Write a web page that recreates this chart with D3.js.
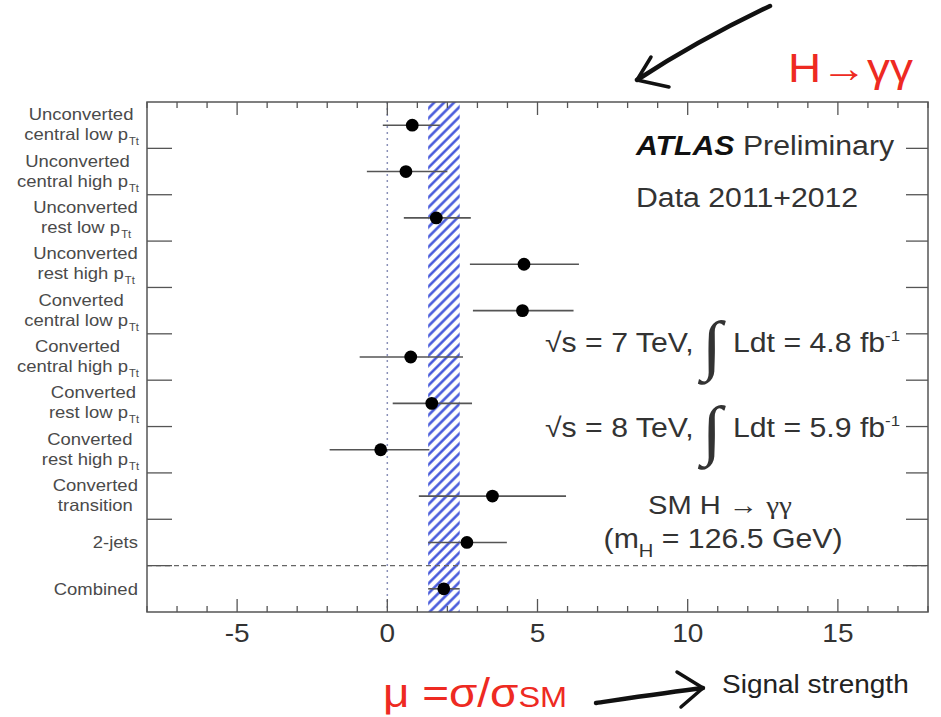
<!DOCTYPE html>
<html>
<head>
<meta charset="utf-8">
<script src="https://cdn.jsdelivr.net/npm/d3@7"></script>
<style>
  body { margin: 0; background: #fff; }
  svg { display: block; font-family: "Liberation Sans", Arial, sans-serif; }
</style>
</head>
<body>
<svg id="chart" width="941" height="717"></svg>
<script>
// category labels, each as lines; "p_Tt" marks p with subscript Tt
var categories = [
	["Unconverted", "central low p_Tt"],
	["Unconverted", "central high p_Tt"],
	["Unconverted", "rest low p_Tt"],
	["Unconverted", "rest high p_Tt"],
	["Converted", "central low p_Tt"],
	["Converted", "central high p_Tt"],
	["Converted", "rest low p_Tt"],
	["Converted", "rest high p_Tt"],
	["Converted", "transition"],
	["2-jets"],
	["Combined"]
];
var muValues = [0.83, 0.62, 1.63, 4.55, 4.5, 0.78, 1.48, -0.22, 3.5, 2.65, 1.88];
var muLow    = [-0.15, -0.68, 0.55, 2.75, 2.85, -0.92, 0.18, -1.92, 1.05, 1.36, 1.36];
var muHigh   = [1.75, 2.0, 2.78, 6.38, 6.2, 2.52, 2.82, 1.4, 5.95, 3.98, 2.41];
var combinedBand = [1.36, 2.41];
var xTicks = [-5, 0, 5, 10, 15];
var xDomain = [-8, 18];

(function () {
	var svg = d3.select('#chart');
	var pl = 147, pr = 928, pt = 102, pb = 612;
	var stretch = 1.12; // the original picture is a bit wider than tall

	var x = d3.scaleLinear().domain(xDomain).range([pl, pr]);
	var y = d3.scaleBand().domain(d3.range(categories.length)).range([pt, pb]);
	var yc = function (i) { return y(i) + y.bandwidth() / 2; };

	// hatch pattern for the combined band
	var defs = svg.append('defs');
	defs.append('pattern')
		.attr('id', 'hatch')
		.attr('patternUnits', 'userSpaceOnUse')
		.attr('width', 7).attr('height', 7)
		.attr('patternTransform', 'rotate(45)')
		.append('line')
		.attr('x1', 1.5).attr('y1', 0).attr('x2', 1.5).attr('y2', 7)
		.attr('stroke', '#3a4ed8').attr('stroke-width', 2.4);

	svg.append('rect')
		.attr('x', x(combinedBand[0])).attr('y', pt)
		.attr('width', x(combinedBand[1]) - x(combinedBand[0]))
		.attr('height', pb - pt)
		.attr('fill', 'url(#hatch)');

	// SM line at mu = 0
	svg.append('line')
		.attr('x1', x(0)).attr('x2', x(0))
		.attr('y1', pt).attr('y2', pb)
		.attr('stroke', '#8a90b8').attr('stroke-width', 1.5)
		.attr('stroke-dasharray', '2,4');

	// dashed separator above "Combined"
	svg.append('line')
		.attr('x1', pl).attr('x2', pr)
		.attr('y1', y(categories.length - 1)).attr('y2', y(categories.length - 1))
		.attr('stroke', '#666').attr('stroke-width', 1.2)
		.attr('stroke-dasharray', '5,4');

	// x axis, bottom and top, with minor ticks every unit
	var minor = d3.range(xDomain[0], xDomain[1] + 1).filter(function (v) { return v % 5 !== 0; });
	var axisG = svg.append('g').attr('stroke', '#555').attr('stroke-width', 1.3);
	[pb, pt].forEach(function (yy) {
		var dir = yy === pb ? -1 : 1;
		xTicks.forEach(function (v) {
			axisG.append('line').attr('x1', x(v)).attr('x2', x(v))
				.attr('y1', yy).attr('y2', yy + dir * 13);
		});
		minor.forEach(function (v) {
			axisG.append('line').attr('x1', x(v)).attr('x2', x(v))
				.attr('y1', yy).attr('y2', yy + dir * 6);
		});
	});

	// category boundary ticks, left and right
	d3.range(1, categories.length).forEach(function (i) {
		axisG.append('line').attr('x1', pl).attr('x2', pl + 25)
			.attr('y1', y(i)).attr('y2', y(i));
		axisG.append('line').attr('x1', pr - 22).attr('x2', pr)
			.attr('y1', y(i)).attr('y2', y(i));
	});

	// frame
	svg.append('rect')
		.attr('x', pl).attr('y', pt)
		.attr('width', pr - pl).attr('height', pb - pt)
		.attr('fill', 'none').attr('stroke', '#555').attr('stroke-width', 1.5);

	// tick labels
	svg.append('g').selectAll('text')
		.data(xTicks)
		.enter().append('text')
		.attr('transform', function (d) { return 'translate(' + x(d) + ',642) scale(' + stretch + ',1)'; })
		.attr('text-anchor', 'middle')
		.attr('font-size', 25)
		.attr('fill', '#333')
		.text(function (d) { return d; });

	// error bars and points
	var rows = svg.append('g').selectAll('g')
		.data(muValues)
		.enter().append('g');

	rows.append('line')
		.attr('x1', function (d, i) { return x(muLow[i]); })
		.attr('x2', function (d, i) { return x(muHigh[i]); })
		.attr('y1', function (d, i) { return yc(i); })
		.attr('y2', function (d, i) { return yc(i); })
		.attr('stroke', '#555').attr('stroke-width', 1.6);

	rows.append('circle')
		.attr('cx', function (d) { return x(d); })
		.attr('cy', function (d, i) { return yc(i); })
		.attr('r', 6.4)
		.attr('fill', '#000');

	// category labels: lines centred on each other, block right edge at 138
	var labelG = svg.append('g').attr('fill', '#4a4a4a').attr('font-size', 16.5);
	categories.forEach(function (lines, i) {
		var cy = yc(i);
		var g = labelG.append('g');
		var texts = lines.map(function (line, k) {
			var t = g.append('text')
				.attr('y', cy + 6 + (lines.length === 1 ? 0 : (k === 0 ? -11 : 9)));
			var parts = line.split('_');
			t.append('tspan').text(parts[0]);
			if (parts[1]) {
				t.append('tspan').attr('font-size', 10).attr('dy', 5).attr('dx', 1).text(parts[1]);
			}
			return t;
		});
		var widths = texts.map(function (t) { return t.node().getComputedTextLength(); });
		var maxW = d3.max(widths);
		texts.forEach(function (t, k) {
			t.attr('x', (maxW - widths[k]) / 2);
		});
		g.attr('transform', 'translate(' + (138 - maxW * stretch) + ',0) scale(' + stretch + ',1)');
	});

	// plot annotations
	function note(xx, yy, size, anchor) {
		return svg.append('text')
			.attr('transform', 'translate(' + xx + ',' + yy + ') scale(' + stretch + ',1)')
			.attr('text-anchor', anchor || 'start')
			.attr('font-size', size)
			.attr('fill', '#333');
	}

	var atlas = note(636, 155, 27);
	atlas.append('tspan').attr('font-weight', 'bold').attr('font-style', 'italic').attr('fill', '#111').text('ATLAS');
	atlas.append('tspan').text(' Preliminary');
	note(636, 207, 27).text('Data 2011+2012');

	[['7', '4.8', 352], ['8', '5.9', 437]].forEach(function (r) {
		note(545, r[2], 27).text('\u221As = ' + r[0] + ' TeV,');
		note(712, r[2] + 15, 66, 'middle').attr('font-family', 'DejaVu Sans').attr('font-weight', 200).text('\u222B');
		var t = note(733, r[2], 27);
		t.append('tspan').text('Ldt = ' + r[1] + ' fb');
		t.append('tspan').attr('font-size', 15).attr('dy', -11).text('-1');
	});

	var sm = note(720, 514, 26, 'middle');
	sm.append('tspan').text('SM H \u2192 ');
	sm.append('tspan').attr('font-family', 'Liberation Serif').text('\u03B3\u03B3');
	var mh = note(723, 548, 27, 'middle');
	mh.append('tspan').text('(m');
	mh.append('tspan').attr('font-size', 18).attr('dy', 9).text('H');
	mh.append('tspan').attr('dy', -9).text(' = 126.5 GeV)');

	// red slide annotations
	svg.append('text')
		.attr('transform', 'translate(788,82) scale(1.12,1)')
		.attr('font-size', 41).attr('fill', '#ee2a22')
		.text('H\u2192\u03B3\u03B3');

	var muT = svg.append('text')
		.attr('transform', 'translate(383,707) scale(1.12,1)')
		.attr('font-size', 41).attr('fill', '#ee2a22');
	muT.append('tspan').text('\u03BC =\u03C3/\u03C3');
	muT.append('tspan').attr('font-size', 29).text('SM');

	note(722, 693, 25).attr('fill', '#222').text('Signal strength');

	// hand-drawn arrows
	var arrows = svg.append('g')
		.attr('fill', 'none').attr('stroke', '#111')
		.attr('stroke-linecap', 'round').attr('stroke-linejoin', 'round');
	arrows.append('path').attr('stroke-width', 4.5)
		.attr('d', 'M770,6 C730,25 680,52 637,80');
	arrows.append('path').attr('stroke-width', 3.5)
		.attr('d', 'M651,57 L637,80 L669,87');
	arrows.append('path').attr('stroke-width', 4.5)
		.attr('d', 'M596,703 C630,698 670,692 703,688');
	arrows.append('path').attr('stroke-width', 3.5)
		.attr('d', 'M677,672 L703,688 L681,707');
})();
</script>
</body>
</html>
